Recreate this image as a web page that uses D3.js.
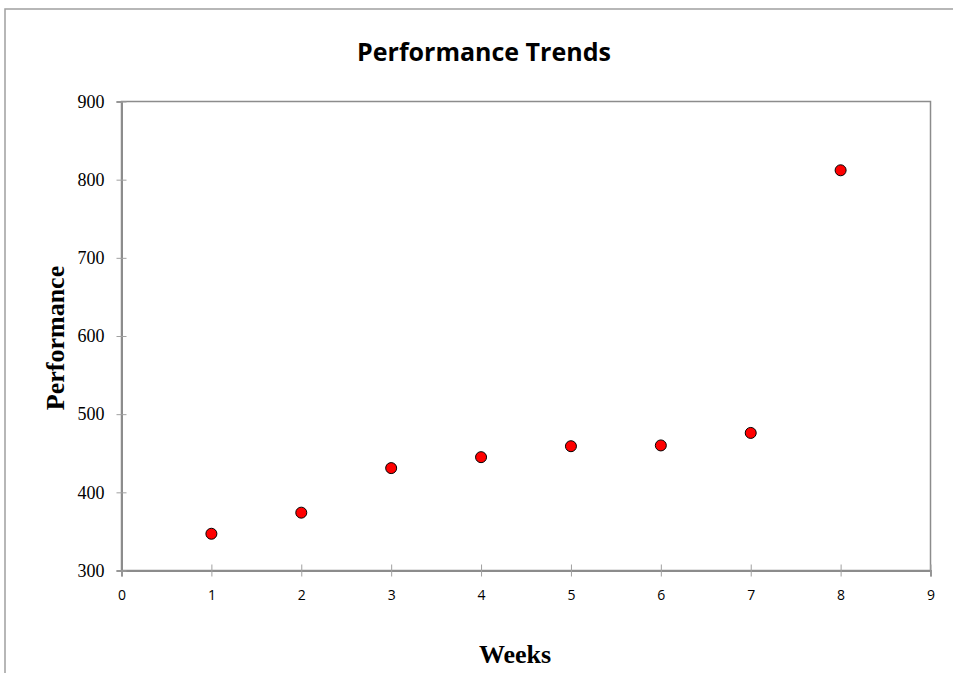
<!DOCTYPE html>
<html lang="en">
<head>
<style>
  body { margin: 0; background: #fff; }
</style>
</head>
<body>
<script src="https://d3js.org/d3.v7.min.js"></script>
<script>
  const weeks = [1, 2, 3, 4, 5, 6, 7, 8];
  const performance = [347, 374, 431, 445, 459, 460, 476, 812];
  const xTicks = [0, 1, 2, 3, 4, 5, 6, 7, 8, 9];
  const yTicks = [300, 400, 500, 600, 700, 800, 900];

  const width = 953, height = 673;
  const plotLeft = 121.5, plotRight = 930.5, plotTop = 101.5, plotBottom = 570.5;

  const svg = d3.select("body").append("svg")
    .attr("width", width)
    .attr("height", height);

  // outer frame (only top and left edges visible)
  svg.append("path")
    .attr("d", "M5,673 V9 H953")
    .attr("fill", "none")
    .attr("stroke", "#a0a0a0")
    .attr("stroke-width", 1.5);

  const x = d3.scaleLinear().domain([0, 9]).range([plotLeft, plotRight]);
  const y = d3.scaleLinear().domain([300, 900]).range([plotBottom, plotTop]);

  // plot box
  svg.append("rect")
    .attr("x", plotLeft).attr("y", plotTop)
    .attr("width", plotRight - plotLeft).attr("height", plotBottom - plotTop)
    .attr("fill", "none")
    .attr("stroke", "#8c8c8c")
    .attr("stroke-width", 1.5);

  // x axis
  const xAxis = d3.axisBottom(x).tickValues(xTicks).tickSize(6).tickPadding(14);
  const gx = svg.append("g")
    .attr("transform", "translate(0," + plotBottom + ")")
    .call(xAxis);
  gx.select(".domain").attr("stroke", "#8c8c8c").attr("stroke-width", 2);
  gx.selectAll(".tick line").attr("stroke", "#a0a0a0").attr("y1", -6);
  gx.selectAll(".tick text")
    .attr("font-family", "'Open Sans', sans-serif")
    .attr("font-size", 14)
    .attr("fill", "#000");

  // y axis
  const yAxis = d3.axisLeft(y).tickValues(yTicks).tickSize(5).tickPadding(12);
  const gy = svg.append("g")
    .attr("transform", "translate(" + plotLeft + ",0)")
    .call(yAxis);
  gy.select(".domain").attr("stroke", "#8c8c8c").attr("stroke-width", 2);
  gy.selectAll(".tick line").attr("stroke", "#a0a0a0").attr("x2", 5).attr("x1", -5);
  gy.selectAll(".tick text")
    .attr("font-family", "'Liberation Serif', serif")
    .attr("font-size", 18)
    .attr("fill", "#000");

  // points
  svg.selectAll("circle.pt")
    .data(weeks)
    .enter()
    .append("circle")
    .attr("class", "pt")
    .attr("cx", function (d) { return x(d); })
    .attr("cy", function (d, i) { return y(performance[i]); })
    .attr("r", 5.5)
    .attr("fill", "#ff0000")
    .attr("stroke", "#000")
    .attr("stroke-width", 1);

  // title
  svg.append("text")
    .attr("x", 484)
    .attr("y", 61)
    .attr("text-anchor", "middle")
    .attr("font-family", "'Open Sans', sans-serif")
    .attr("font-weight", "bold")
    .attr("font-size", 25)
    .text("Performance Trends");

  // axis titles
  svg.append("text")
    .attr("x", 515)
    .attr("y", 663)
    .attr("text-anchor", "middle")
    .attr("font-family", "'Liberation Serif', serif")
    .attr("font-weight", "bold")
    .attr("font-size", 26)
    .text("Weeks");

  svg.append("text")
    .attr("transform", "translate(64,338) rotate(-90)")
    .attr("text-anchor", "middle")
    .attr("font-family", "'Liberation Serif', serif")
    .attr("font-weight", "bold")
    .attr("font-size", 26)
    .text("Performance");
</script>
</body>
</html>
